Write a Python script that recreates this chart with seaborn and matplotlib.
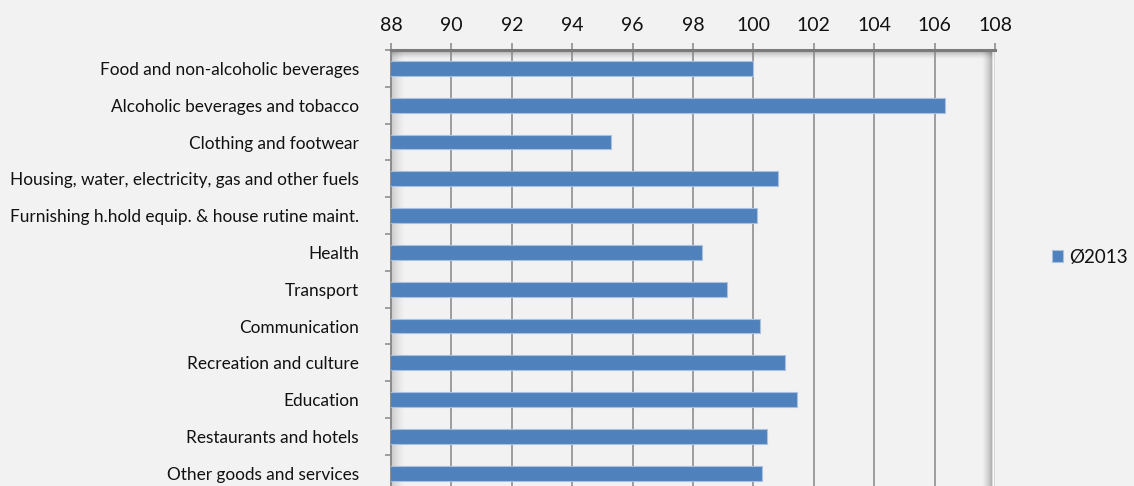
import matplotlib
matplotlib.use("Agg")
import matplotlib.pyplot as plt
from matplotlib.patches import Rectangle
from matplotlib.ticker import FixedLocator
import seaborn as sns
import pandas as pd

categories = [
    "Food and non-alcoholic beverages",
    "Alcoholic beverages and tobacco",
    "Clothing and footwear",
    "Housing, water, electricity, gas and other fuels",
    "Furnishing h.hold equip. & house rutine maint.",
    "Health",
    "Transport",
    "Communication",
    "Recreation and culture",
    "Education",
    "Restaurants and hotels",
    "Other goods and services",
]
values_2013 = [100.0, 106.36, 95.27, 100.83, 100.12, 98.31, 99.14, 100.22, 101.06, 101.43, 100.44, 100.3]
series_name = "Ø2013"
x_ticks = [88, 90, 92, 94, 96, 98, 100, 102, 104, 106, 108]

df = pd.DataFrame({"category": categories, "value": values_2013})

sns.set_style("white")
plt.rcParams["font.family"] = ["Lato", "DejaVu Sans"]

BG = "#F2F2F2"
GRID = "#868686"
W_PX, H_PX = 604, 441.6

fig = plt.figure(figsize=(11.34, 4.86), dpi=100, facecolor=BG)
ax = fig.add_axes([391 / 1134, 1 - 491.6 / 486, W_PX / 1134, H_PX / 486])
ax.set_facecolor(BG)

sns.barplot(data=df, x="value", y="category", color="#4F81BD", orient="h",
            width=0.4, ax=ax, label=series_name, edgecolor="#A9C0DF",
            linewidth=0.8, zorder=3, saturation=1)
if ax.get_legend() is not None:
    ax.get_legend().remove()

ax.set_xlim(x_ticks[0], x_ticks[-1])
ax.set_ylim(len(categories) - 0.5, -0.5)
ax.set_xlabel("")
ax.set_ylabel("")

ax.xaxis.set_major_locator(FixedLocator(x_ticks))
ax.xaxis.tick_top()
ax.tick_params(axis="x", which="major", top=True, bottom=False, length=5,
               width=1.1, color=GRID, labelsize=14, pad=6.5, labelcolor="#111111")
ax.grid(axis="x", color=GRID, linewidth=1.1, zorder=1)
ax.set_axisbelow(True)

ax.tick_params(axis="y", which="major", left=False, length=0, pad=23,
               labelsize=12.4, labelcolor="#111111")
ax.yaxis.set_minor_locator(FixedLocator([i - 0.5 for i in range(len(categories) + 1)]))
ax.tick_params(axis="y", which="minor", left=True, length=4.5, width=1.1, color=GRID)

for s in ["bottom", "right"]:
    ax.spines[s].set_visible(False)
ax.spines["left"].set_color("#8C8C8C")
ax.spines["left"].set_linewidth(1.4)
ax.spines["top"].set_color("#7A7A7A")
ax.spines["top"].set_linewidth(2.2)

# inner shadow of the plot frame
n = 14
for i in range(n):
    a = 0.16 * (1 - i / n) ** 1.5
    ax.add_patch(Rectangle((i / W_PX, 0), 1 / W_PX, 1, transform=ax.transAxes,
                           facecolor="black", alpha=a, lw=0, zorder=0.5))
n = 11
for i in range(n):
    a = 0.30 * (1 - i / n) ** 1.5
    ax.add_patch(Rectangle((1 - (i + 3) / W_PX, 0), 1 / W_PX, 1, transform=ax.transAxes,
                           facecolor="black", alpha=a, lw=0, zorder=0.5))
ax.add_patch(Rectangle((1 - 3 / W_PX, 0), 3 / W_PX, 1, transform=ax.transAxes,
                       facecolor="white", alpha=0.6, lw=0, zorder=0.6))
n = 9
for i in range(n):
    a = 0.30 * (1 - i / n) ** 1.5
    ax.add_patch(Rectangle((0, 1 - (i + 1) / H_PX), 1, 1 / H_PX, transform=ax.transAxes,
                           facecolor="black", alpha=a, lw=0, zorder=0.5))

handles, labels = ax.get_legend_handles_labels()
fig.legend(handles[:1], labels[:1], loc="center left",
           bbox_to_anchor=(1052 / 1134, 1 - 257 / 486), frameon=False,
           fontsize=13.5, handlelength=0.6, handleheight=0.6,
           handletextpad=0.3, borderpad=0, borderaxespad=0, labelcolor="#111111")

fig.savefig("out.png", dpi=100, facecolor=BG)
